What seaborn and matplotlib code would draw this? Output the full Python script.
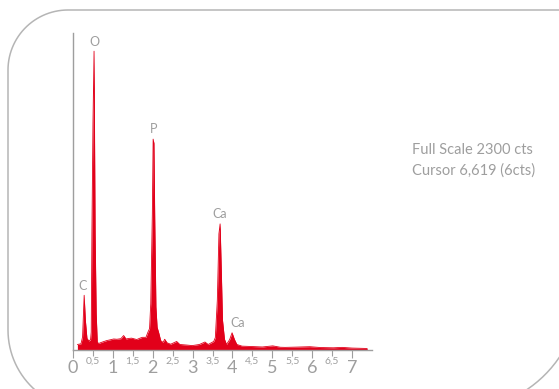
import matplotlib
matplotlib.use("Agg")
import numpy as np
import matplotlib.pyplot as plt
import seaborn as sns
from matplotlib.path import Path
from matplotlib.patches import PathPatch

# Spectre EDS (keV, coups)
energie = [0.11, 0.20, 0.24, 0.28, 0.31, 0.35, 0.40, 0.44, 0.457, 0.474, 0.501, 0.528,
           0.555, 0.582, 0.609, 0.65, 0.71, 0.84, 0.95, 1.02, 1.10, 1.20, 1.27, 1.33,
           1.40, 1.47, 1.60, 1.68, 1.74, 1.83, 1.88, 1.92, 1.95, 1.99, 2.01, 2.03, 2.05,
           2.08, 2.11, 2.15, 2.20, 2.26, 2.30, 2.36, 2.45, 2.60, 2.68, 2.85, 2.99, 3.17,
           3.31, 3.39, 3.53, 3.57, 3.62, 3.66, 3.69, 3.72, 3.75, 3.80, 3.85, 3.93, 3.99,
           4.05, 4.11, 4.24, 4.50, 4.75, 5.01, 5.20, 5.32, 5.60, 5.94, 6.20, 6.53, 6.75,
           7.00, 7.38]
coups = [40, 45, 95, 397, 217, 84, 65, 75, 130, 843, 1650, 2168,
         843, 265, 55, 48, 55, 68, 75, 80, 78, 82, 105, 80,
         84, 86, 76, 86, 92, 92, 130, 155, 337, 987, 1530, 1500, 963,
         313, 165, 125, 68, 55, 78, 52, 42, 62, 40, 36, 32, 40,
         58, 40, 62, 90, 361, 843, 915, 578, 217, 78, 40, 76, 125,
         76, 40, 28, 25, 22, 30, 20, 19, 21, 24, 18, 16, 19,
         14, 11]

elements = ["C", "O", "P", "Ca", "Ca"]
pos_elements = [0.25, 0.53, 2.01, 3.68, 4.12]
haut_elements = [420, 2190, 1560, 940, 150]

entiers = [0, 1, 2, 3, 4, 5, 6, 7]
demis = [0.5, 1.5, 2.5, 3.5, 4.5, 5.5, 6.5]
etiq_demis = ["0,5", "1,5", "2,5", "3,5", "4,5", "5,5", "6,5"]

rouge = "#e2001a"
gris = "#9e9e9e"

sns.set_style("white")
plt.rcParams['font.family'] = ['Lato', 'DejaVu Sans']

fig = plt.figure(figsize=(5.59, 3.89), dpi=100)
ax = fig.add_axes([73 / 559, 39 / 389, 299 / 559, 317 / 389])

sns.lineplot(x=energie, y=coups, color=rouge, lw=0.6, ax=ax)
ax.fill_between(energie, coups, color=rouge, lw=0)

for nom, x, y in zip(elements, pos_elements, haut_elements):
    ax.text(x, y, nom, color=gris, fontsize=9, ha="center", va="bottom")

ax.set_xlim(0, 7.5)
ax.set_ylim(0, 2300)
ax.set_yticks([])
ax.set_xticks(entiers, labels=[str(v) for v in entiers])
ax.set_xticks(demis, labels=etiq_demis, minor=True)
ax.tick_params(axis="x", which="major", direction="out", length=6, width=0.8, color=gris,
               labelcolor=gris, labelsize=13, pad=1, bottom=True)
ax.tick_params(axis="x", which="minor", direction="out", length=4, width=0.8, color=gris,
               labelcolor=gris, labelsize=7.5, pad=1, bottom=True)

for s in ["top", "right"]:
    ax.spines[s].set_visible(False)
for s in ["left", "bottom"]:
    ax.spines[s].set_color(gris)
    ax.spines[s].set_linewidth(1)
ax.set_xlabel("")
ax.set_ylabel("")

fig.text(412 / 559, 1 - 150 / 389, "Full Scale 2300 cts", color=gris, fontsize=10.5,
         va="center")
fig.text(412 / 559, 1 - 171 / 389, "Cursor 6,619 (6cts)", color=gris, fontsize=10.5,
         va="center")


# cadre arrondi (pixels, origine en haut à gauche)
def arc(cx, cy, r, a0, a1):
    t = np.radians(np.linspace(a0, a1, 30))
    return list(zip(cx + r * np.cos(t), cy - r * np.sin(t)))


pts = [(600, 10)]
pts += arc(68, 70, 60, 90, 180)
pts += arc(88, 330, 80, 180, 270)
pts += arc(460, 290, 120, 270, 360)
pts += [(600, 290)]
pts = [(x / 100, (389 - y) / 100) for x, y in pts]
cadre = PathPatch(Path(pts), transform=fig.dpi_scale_trans, fc="none", ec="#b5b5b5", lw=1.1)
fig.add_artist(cadre)

fig.savefig("out.png", dpi=100)
